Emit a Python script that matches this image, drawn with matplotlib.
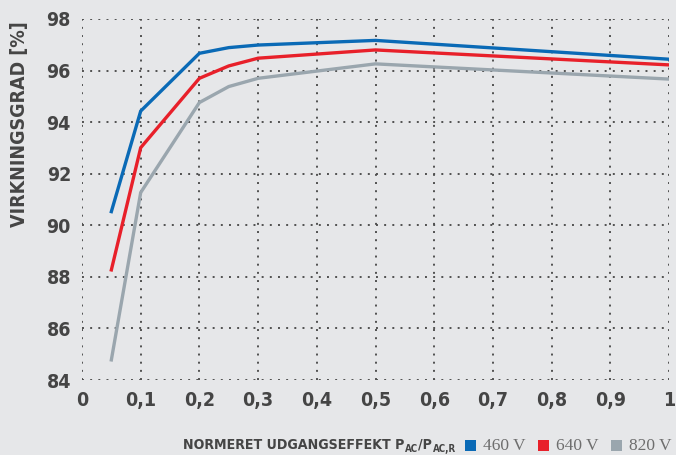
import matplotlib
matplotlib.use("Agg")
import matplotlib.pyplot as plt
from matplotlib import font_manager
from matplotlib.font_manager import FontProperties
from matplotlib.patches import Rectangle

x = [0.05, 0.1, 0.2, 0.25, 0.3, 0.5, 1.0]
v460 = [90.53, 94.43, 96.67, 96.89, 96.99, 97.17, 96.44]
v640 = [88.27, 93.01, 95.70, 96.18, 96.48, 96.80, 96.22]
v820 = [84.78, 91.27, 94.76, 95.38, 95.70, 96.26, 95.67]
series_names = ["460 V", "640 V", "820 V"]
colors = ["#0a6ab6", "#e8202a", "#9aa6ae"]
xticks = [0, 0.1, 0.2, 0.3, 0.4, 0.5, 0.6, 0.7, 0.8, 0.9, 1.0]
yticks = [84, 86, 88, 90, 92, 94, 96, 98]

cand = []
for f in font_manager.fontManager.ttflist:
    fn = f.fname.lower()
    if ("condensed" in fn or "narrow" in fn) and "bold" in fn and "oblique" not in fn and "italic" not in fn:
        cand.append(f.fname)
cand.sort(key=lambda s: (0 if "liberation" in s.lower() else 1 if "dejavusans" in s.lower() else 2))
if cand:
    def fp(size):
        return FontProperties(fname=cand[0], size=size)
else:
    def fp(size):
        return FontProperties(family="DejaVu Sans", weight="bold", stretch="condensed", size=size)

bg = "#e6e7e9"
txt = "#454545"
W, H = 676, 455

fig = plt.figure(figsize=(6.76, 4.55), dpi=100, facecolor=bg)
ax = fig.add_axes([82/W, 1-380/H, (669-82)/W, (380-19)/H], facecolor=bg)
for s in ax.spines.values():
    s.set_visible(False)

for xv in xticks:
    ax.axvline(xv, color="#505050", lw=1.4, ls=(0, (1, 3.2)), zorder=1)
for yv in yticks:
    ax.axhline(yv, color="#505050", lw=1.4, ls=(0, (1, 3.2)), zorder=1)

for ys, c in zip([v460, v640, v820], colors):
    ax.plot(x, ys, color=c, lw=2.4, zorder=3, solid_joinstyle="miter")

ax.set_xlim(0, 1)
ax.set_ylim(84, 98)
ax.set_xticks(xticks)
ax.set_xticklabels([("%g" % t).replace(".", ",") for t in xticks])
ax.set_yticks(yticks)
ax.tick_params(length=0, pad=8, labelcolor=txt)
for lab in ax.get_xticklabels() + ax.get_yticklabels():
    lab.set_fontproperties(fp(14))

fig.text(20/W, 1-124/H, "VIRKNINGSGRAD [%]", rotation=90, ha="center", va="center",
         fontproperties=fp(14), color=txt)

# x label built from pieces (main text + subscripts)
pieces = [("NORMERET UDGANGSEFFEKT P", 10.2, 0), ("AC", 7, -2.5), ("/P", 10.2, 0), ("AC,R", 7, -2.5)]
renderer = fig.canvas.get_renderer()
cx = 183
base = 449
for s, size, dy in pieces:
    t = fig.text(cx/W, 1-(base - dy)/H, s, ha="left", va="baseline",
                 fontproperties=fp(size), color=txt)
    bb = t.get_window_extent(renderer)
    cx += bb.width + 0.5

lx = [465, 538, 611]
for px, name, c in zip(lx, series_names, colors):
    fig.patches.append(Rectangle((px/W, 1-451/H), 11/W, 11/H, transform=fig.transFigure,
                                 facecolor=c, edgecolor="none"))
    fig.text((px+18)/W, 1-450/H, name, ha="left", va="baseline",
             fontfamily="Liberation Serif", fontsize=12.5, color="#6e6e6e")

fig.savefig("out.png", dpi=100, facecolor=bg)
